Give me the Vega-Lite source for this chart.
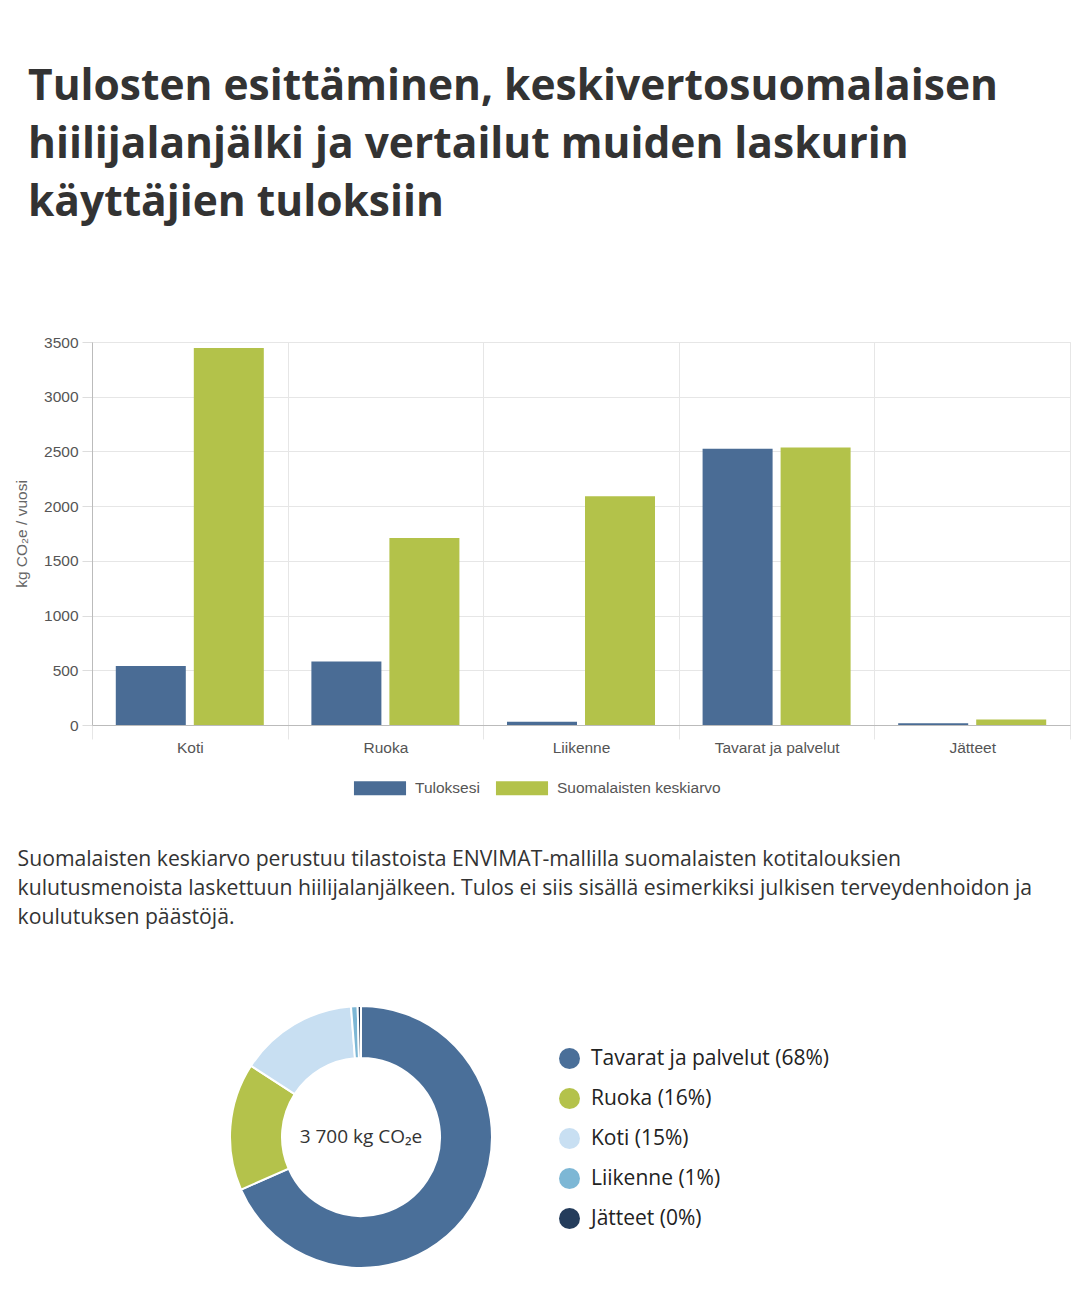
{
  "$schema": "https://vega.github.io/schema/vega-lite/v6.json",
  "background": "white",
  "padding": {"left": 14, "right": 10, "top": 66, "bottom": 10},
  "title": {
    "text": ["Tulosten esittäminen, keskivertosuomalaisen", "hiilijalanjälki ja vertailut muiden laskurin", "käyttäjien tuloksiin"],
    "font": "Open Sans",
    "fontSize": 42.5,
    "fontWeight": "bold",
    "color": "#333333",
    "anchor": "start",
    "lineHeight": 58,
    "dx": 14,
    "offset": 110
  },
  "spacing": 73,
  "resolve": {"scale": {"color": "independent"}, "legend": {"color": "independent"}},
  "datasets": {
    "bars": [
      {"cat": "Koti", "series": "Tuloksesi", "value": 540},
      {"cat": "Koti", "series": "Suomalaisten keskiarvo", "value": 3445},
      {"cat": "Ruoka", "series": "Tuloksesi", "value": 580},
      {"cat": "Ruoka", "series": "Suomalaisten keskiarvo", "value": 1710},
      {"cat": "Liikenne", "series": "Tuloksesi", "value": 30},
      {"cat": "Liikenne", "series": "Suomalaisten keskiarvo", "value": 2090},
      {"cat": "Tavarat ja palvelut", "series": "Tuloksesi", "value": 2525},
      {"cat": "Tavarat ja palvelut", "series": "Suomalaisten keskiarvo", "value": 2535},
      {"cat": "Jätteet", "series": "Tuloksesi", "value": 15},
      {"cat": "Jätteet", "series": "Suomalaisten keskiarvo", "value": 50}
    ],
    "donut": [
      {"name": "Tavarat ja palvelut", "label": "Tavarat ja palvelut (68%)", "value": 2525, "ord": 1},
      {"name": "Ruoka", "label": "Ruoka (16%)", "value": 580, "ord": 2},
      {"name": "Koti", "label": "Koti (15%)", "value": 540, "ord": 3},
      {"name": "Liikenne", "label": "Liikenne (1%)", "value": 30, "ord": 4},
      {"name": "Jätteet", "label": "Jätteet (0%)", "value": 15, "ord": 5}
    ],
    "total": [{"text": "3 700 kg CO₂e"}]
  },
  "vconcat": [
    {
      "width": 978,
      "height": 383,
      "view": {"stroke": "#e6e6e6"},
      "title": {
        "text": ["Suomalaisten keskiarvo perustuu tilastoista ENVIMAT-mallilla suomalaisten kotitalouksien", "kulutusmenoista laskettuun hiilijalanjälkeen. Tulos ei siis sisällä esimerkiksi julkisen terveydenhoidon ja", "koulutuksen päästöjä."],
        "orient": "bottom",
        "anchor": "start",
        "baseline": "top",
        "font": "Open Sans",
        "fontSize": 21.2,
        "fontWeight": "normal",
        "color": "#333333",
        "lineHeight": 29,
        "dx": 3,
        "offset": 52
      },
      "data": {"name": "bars"},
      "mark": {"type": "bar"},
      "encoding": {
        "x": {
          "field": "cat",
          "type": "nominal",
          "sort": ["Koti", "Ruoka", "Liikenne", "Tavarat ja palvelut", "Jätteet"],
          "scale": {"paddingInner": 0, "paddingOuter": 0},
          "axis": {
            "title": null,
            "labelAngle": 0,
            "tickBand": "extent",
            "grid": true,
            "gridColor": "#e6e6e6",
            "ticks": true,
            "tickSize": 14,
            "tickColor": "#e6e6e6",
            "domainColor": "#bbbbbb",
            "labelPadding": 1,
            "labelFont": "Liberation Sans",
            "labelFontSize": 15.5,
            "labelColor": "#555555"
          }
        },
        "xOffset": {
          "field": "series",
          "type": "nominal",
          "sort": ["Tuloksesi", "Suomalaisten keskiarvo"],
          "scale": {"paddingInner": 0.1026, "paddingOuter": 0.305}
        },
        "y": {
          "field": "value",
          "type": "quantitative",
          "scale": {"domain": [0, 3500], "nice": false},
          "axis": {
            "title": "kg CO₂e / vuosi",
            "titleFont": "Liberation Sans",
            "titleFontSize": 15.5,
            "titleFontWeight": "normal",
            "titleColor": "#666666",
            "titlePadding": 14,
            "values": [0, 500, 1000, 1500, 2000, 2500, 3000, 3500],
            "format": "d",
            "grid": true,
            "gridColor": "#e6e6e6",
            "ticks": true,
            "tickSize": 10,
            "tickColor": "#dddddd",
            "domain": true,
            "domainColor": "#bbbbbb",
            "labelPadding": 4,
            "labelFont": "Liberation Sans",
            "labelFontSize": 15.5,
            "labelColor": "#555555"
          }
        },
        "color": {
          "field": "series",
          "type": "nominal",
          "sort": ["Tuloksesi", "Suomalaisten keskiarvo"],
          "scale": {"domain": ["Tuloksesi", "Suomalaisten keskiarvo"], "range": ["#4a6c95", "#b3c24a"]},
          "legend": {
            "title": null,
            "orient": "none",
            "direction": "horizontal",
            "legendX": 274,
            "legendY": 432,
            "symbolType": "M-1.86,-0.5H1.86V0.5H-1.86Z",
            "symbolSize": 784,
            "symbolStrokeWidth": 0,
            "symbolOpacity": 1,
            "labelFont": "Liberation Sans",
            "labelFontSize": 15.5,
            "labelColor": "#555555",
            "labelOffset": 21,
            "labelLimit": 0,
            "columnPadding": 15
          }
        }
      }
    },
    {
      "width": 538,
      "height": 262,
      "view": {"stroke": null},
      "layer": [
        {
          "data": {"name": "donut"},
          "mark": {"type": "arc", "outerRadius": 131, "innerRadius": 79, "stroke": "white", "strokeWidth": 2},
          "encoding": {
            "theta": {"field": "value", "type": "quantitative", "stack": true},
            "order": {"field": "ord", "type": "quantitative"},
            "color": {
              "field": "label",
              "type": "nominal",
              "sort": ["Tavarat ja palvelut (68%)", "Ruoka (16%)", "Koti (15%)", "Liikenne (1%)", "Jätteet (0%)"],
              "scale": {
                "domain": ["Tavarat ja palvelut (68%)", "Ruoka (16%)", "Koti (15%)", "Liikenne (1%)", "Jätteet (0%)"],
                "range": ["#4a6f99", "#b4c24b", "#c8dff2", "#7db7d5", "#243c5b"]
              },
              "legend": {
                "title": null,
                "orient": "none",
                "legendX": 467,
                "legendY": 42,
                "symbolType": "circle",
                "symbolSize": 440,
                "symbolStrokeWidth": 0,
                "symbolOpacity": 1,
                "labelFont": "Open Sans",
                "labelFontSize": 21,
                "labelColor": "#222222",
                "labelOffset": 11,
                "labelLimit": 0,
                "rowPadding": 18
              }
            }
          }
        },
        {
          "data": {"name": "total"},
          "mark": {"type": "text", "font": "Open Sans", "fontSize": 19, "color": "#333333"},
          "encoding": {"text": {"field": "text", "type": "nominal"}}
        }
      ]
    }
  ]
}
